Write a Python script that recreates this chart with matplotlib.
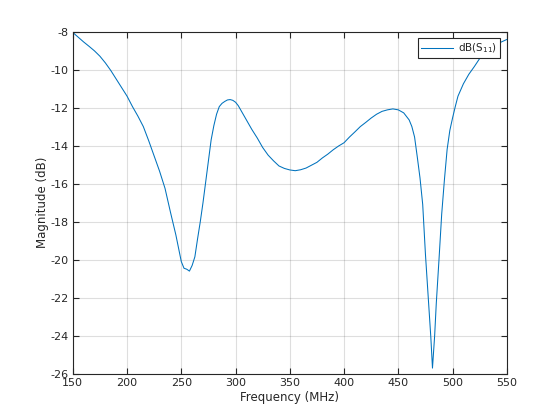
import matplotlib
matplotlib.use("Agg")
import matplotlib.pyplot as plt

freq_mhz = [150, 155, 160, 165, 170, 175, 180, 185, 190, 195, 200, 205, 210, 215, 220, 225, 230, 235,
            240, 245, 250, 252.5, 255, 257.5, 260, 262.5, 265, 267.5, 270, 272.5, 275, 277.5, 280, 282.5,
            285, 287.5, 290, 292.5, 295, 297.5, 300, 302.5, 305, 310, 315, 320, 325, 330, 335, 340, 345,
            350, 355, 360, 365, 370, 375, 380, 385, 390, 395, 400, 405, 410, 415, 420, 425, 430, 435, 440,
            445, 450, 455, 460, 462.5, 465, 467.5, 470, 472.5, 475, 477.5, 480, 481.5, 483.5, 485, 487.5,
            490, 492.5, 495, 497.5, 500, 502.5, 505, 510, 515, 520, 525, 530, 535, 540, 545, 550]
s11_db = [-8.05, -8.3, -8.55, -8.78, -9.02, -9.3, -9.65, -10.05, -10.5, -10.95, -11.4, -11.95, -12.45,
          -13.0, -13.75, -14.55, -15.35, -16.25, -17.5, -18.7, -20.1, -20.45, -20.5, -20.6, -20.3, -19.85,
          -18.9, -18.0, -17.0, -15.9, -14.8, -13.7, -12.95, -12.35, -11.95, -11.78, -11.68, -11.6, -11.58,
          -11.62, -11.72, -11.9, -12.15, -12.65, -13.15, -13.6, -14.1, -14.5, -14.8, -15.07, -15.2, -15.28,
          -15.32, -15.27, -15.18, -15.03, -14.88, -14.65, -14.45, -14.22, -14.02, -13.85, -13.55, -13.28,
          -13.0, -12.78, -12.55, -12.35, -12.2, -12.12, -12.07, -12.12, -12.28, -12.65, -13.0, -13.55,
          -14.6, -15.7, -17.1, -19.7, -21.9, -24.1, -25.7, -24.0, -22.3, -20.0, -17.6, -15.8, -14.2, -13.2,
          -12.55, -11.95, -11.4, -10.75, -10.25, -9.85, -9.42, -9.14, -8.9, -8.7, -8.55, -8.42]

x_ticks = [150, 200, 250, 300, 350, 400, 450, 500, 550]
y_ticks = [-26, -24, -22, -20, -18, -16, -14, -12, -10, -8]

plt.rcParams['font.family'] = ['DejaVu Sans']
plt.rcParams['axes.unicode_minus'] = False

fig = plt.figure(figsize=(5.6, 4.2), dpi=100)
ax = fig.add_axes([0.13, 0.11, 0.775, 0.815])
ax.plot(freq_mhz, s11_db, color='#0072BD', lw=0.75, label=r'dB(S$_{11}$)')
ax.set_xlim(150, 550)
ax.set_ylim(-26, -8)
ax.set_xticks(x_ticks)
ax.set_yticks(y_ticks)
ax.grid(True, color='#262626', alpha=0.15, lw=0.8)
ax.set_axisbelow(True)
txtc = '#262626'
ax.tick_params(direction='in', top=True, right=True, length=4, width=0.8,
               labelsize=8, colors=txtc, pad=3)
for s in ax.spines.values():
    s.set_color(txtc)
    s.set_linewidth(0.8)
ax.set_xlabel('Frequency (MHz)', fontsize=8.5, color=txtc, labelpad=2)
ax.set_ylabel('Magnitude (dB)', fontsize=8.5, color=txtc, labelpad=1)
leg = ax.legend(loc='upper right', fontsize=7.5, fancybox=False, framealpha=1,
                edgecolor=txtc, handlelength=3.0, borderaxespad=0.65,
                borderpad=0.3, handletextpad=0.5)
leg.get_frame().set_linewidth(0.8)
for t in leg.get_texts():
    t.set_color(txtc)
fig.savefig('out.png', dpi=100)
